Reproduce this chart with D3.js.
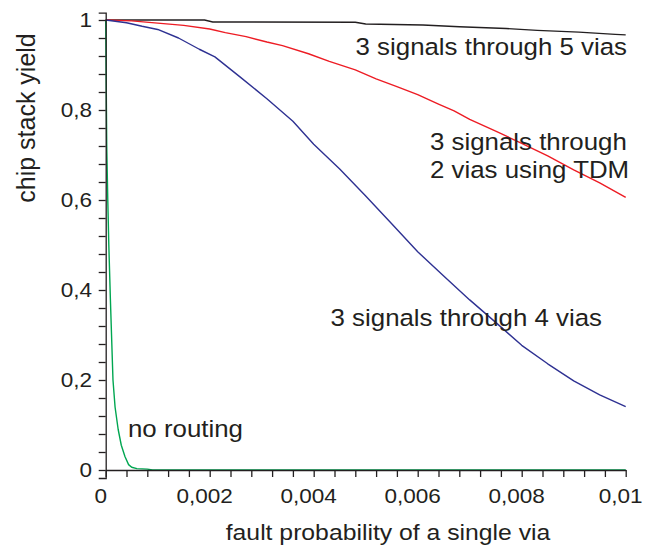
<!DOCTYPE html>
<html>
<head>
<meta charset="utf-8">
<script src="https://cdn.jsdelivr.net/npm/d3@7"></script>
<style>
  body { margin: 0; background: #fff; }
  svg { display: block; font-family: "Liberation Sans", Arial, Helvetica, sans-serif; }
</style>
</head>
<body>
<svg width="655" height="550"></svg>
<script>
// [fault probability, chip stack yield]
const fiveVias = [[0, 1], [0.0019, 1], [0.00206, 0.9956], [0.0048, 0.995], [0.005, 0.991],
    [0.0061, 0.989], [0.0068, 0.985], [0.0077, 0.981], [0.0083, 0.977], [0.0091, 0.973],
    [0.0098, 0.968], [0.01, 0.967]];

const twoViasTdm = [[0, 1], [0.0005, 0.998], [0.001, 0.993], [0.0015, 0.988], [0.002, 0.98],
    [0.0023, 0.972], [0.0027, 0.963], [0.0031, 0.951], [0.0034, 0.943], [0.0039, 0.925],
    [0.0043, 0.908], [0.0048, 0.889], [0.0052, 0.869], [0.0056, 0.852], [0.006, 0.834],
    [0.0064, 0.813], [0.0067, 0.798], [0.007, 0.779], [0.0075, 0.753], [0.008, 0.726],
    [0.0085, 0.698], [0.009, 0.667], [0.0095, 0.638], [0.01, 0.606]];

const fourVias = [[0, 1], [0.0004, 0.994], [0.0007, 0.986], [0.001, 0.979], [0.0014, 0.96],
    [0.0018, 0.935], [0.0021, 0.918], [0.0026, 0.872], [0.0031, 0.825], [0.0036, 0.775],
    [0.004, 0.724], [0.0045, 0.669], [0.005, 0.609], [0.0055, 0.547], [0.006, 0.485],
    [0.0065, 0.431], [0.007, 0.378], [0.0075, 0.328], [0.008, 0.277], [0.0085, 0.236],
    [0.009, 0.198], [0.0095, 0.167], [0.01, 0.141]];

const noRouting = [[0, 1], [0.00001, 0.86], [0.00002, 0.72], [0.00004, 0.6], [0.00006, 0.5],
    [0.00009, 0.38], [0.00014, 0.2], [0.00018, 0.14], [0.00024, 0.09], [0.0003, 0.055],
    [0.00037, 0.03], [0.00044, 0.012], [0.0005, 0.006], [0.0006, 0.003], [0.0008, 0.002],
    [0.0009, 0], [0.01, 0]];

const xTickValues = [0, 0.002, 0.004, 0.006, 0.008, 0.01];
const xTickLabels = ["0", "0,002", "0,004", "0,006", "0,008", "0,01"];
const yTickValues = [0, 0.2, 0.4, 0.6, 0.8, 1];
const yTickLabels = ["0", "0,2", "0,4", "0,6", "0,8", "1"];

const ink = "#231f20";
const stretch = 1.1;   // the original lettering is a little wide

const svg = d3.select("svg");

const x = d3.scaleLinear().domain([0, 0.01]).range([105.7, 625.7]);
const y = d3.scaleLinear().domain([0, 1]).range([470, 20]);
// y axis line runs a bit past both ends of the data range
const yAxisScale = d3.scaleLinear().domain([-8 / 450, 1 + 7.3 / 450]).range([478, 12.7]);

const line = d3.line()
    .x(d => x(d[0]))
    .y(d => y(d[1]));

// Curves
const curves = [
    { data: noRouting, color: "#00a651" },
    { data: fiveVias, color: "#231f20" },
    { data: twoViasTdm, color: "#ed1c24" },
    { data: fourVias, color: "#2e3192" }
];

svg.append("g")
    .selectAll("path")
    .data(curves)
    .enter().append("path")
    .attr("d", d => line(d.data))
    .attr("fill", "none")
    .attr("stroke", d => d.color)
    .attr("stroke-width", 1.4)
    .attr("stroke-linejoin", "round");

// Axes
const minorY = d3.range(26).map(i => i * 0.04);
const minorX = d3.range(26).map(i => i * 0.0004);

const yAxis = svg.append("g")
    .attr("transform", `translate(${x(0)},0)`)
    .call(d3.axisLeft(yAxisScale).tickValues(minorY).tickSize(7).tickSizeOuter(7).tickFormat(""));

const xAxis = svg.append("g")
    .attr("transform", `translate(0,${y(0)})`)
    .call(d3.axisBottom(x).tickValues(minorX).tickSize(7).tickSizeOuter(0).tickFormat(""));

[xAxis, yAxis].forEach(a => {
    a.selectAll("path, line").attr("stroke", ink).attr("stroke-width", 1.3);
});

// stretched text helper
function label(str, px, py, anchor, size) {
    svg.append("text")
        .attr("transform", `translate(${px},${py}) scale(${stretch},1)`)
        .attr("text-anchor", anchor)
        .attr("font-size", size)
        .attr("fill", ink)
        .text(str);
}

xTickValues.forEach((v, i) => label(xTickLabels[i], x(v) - 5, 502.7, "middle", 20.5));
yTickValues.forEach((v, i) => label(yTickLabels[i], 92, y(v) + 7.4, "end", 20.5));

label("fault probability of a single via", 388, 540, "middle", 22.5);

svg.append("text")
    .attr("transform", "translate(35,118) rotate(-90)")
    .attr("text-anchor", "middle")
    .attr("font-size", 25)
    .attr("fill", ink)
    .text("chip stack yield");

// Curve annotations
label("3 signals through 5 vias", 627, 55, "end", 23.5);
label("3 signals through", 430, 150, "start", 23.5);
label("2 vias using TDM", 430, 178.3, "start", 23.5);
label("3 signals through 4 vias", 602, 326, "end", 23.5);
label("no routing", 128, 436.7, "start", 23.5);
</script>
</body>
</html>
